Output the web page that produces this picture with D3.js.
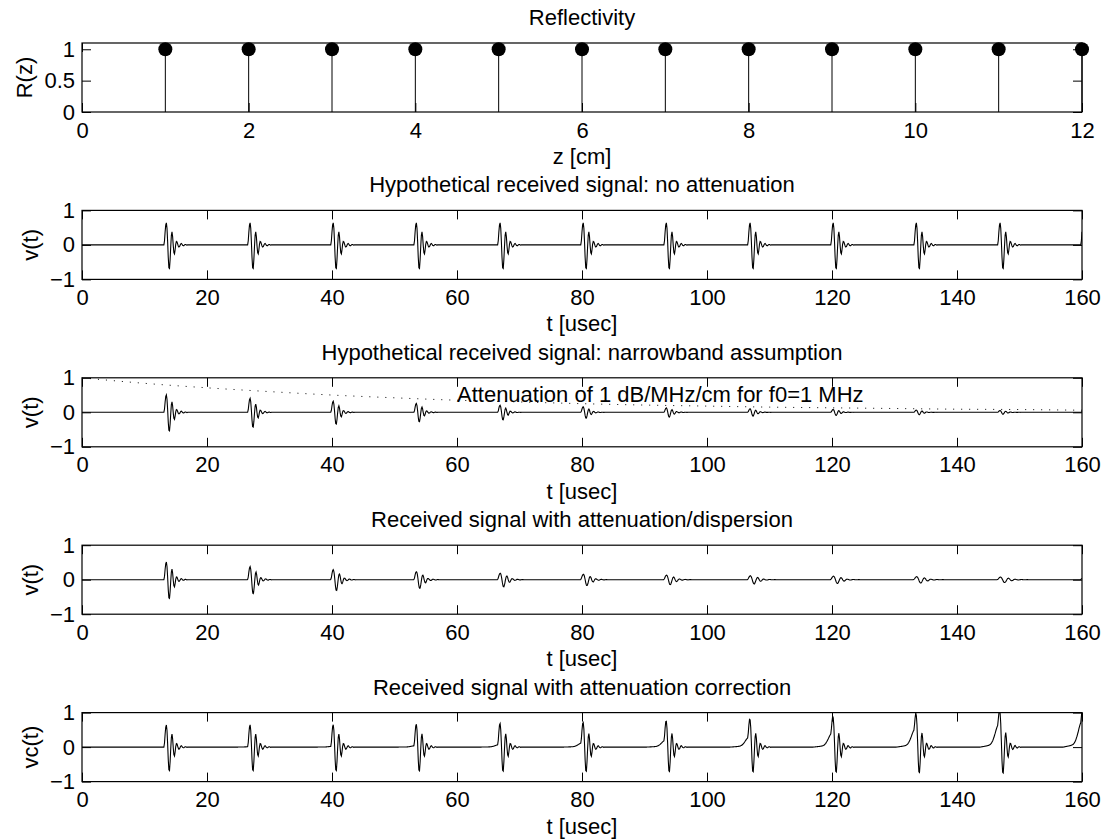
<html>
  <head>
    <meta charset="UTF-8">
    <script src="https://unpkg.com/d3@7/dist/d3.min.js"></script>
    <title>Reflectivity and received signals</title>
    <style> body { margin: 0; background: #fff; } </style>
  </head>
  <body>
  <script type="text/javascript">

    // ---- data ----
    // reflectivity: one reflector per cm
    var depths = [1, 2, 3, 4, 5, 6, 7, 8, 9, 10, 11, 12];
    var reflect = [1, 1, 1, 1, 1, 1, 1, 1, 1, 1, 1, 1];

    // echo arrival times [usec]
    var echoTimes = [13.3, 26.7, 40.0, 53.3, 66.7, 80.0, 93.3, 106.7, 120.0, 133.3, 146.7, 160.0];

    // single echo shape (offset from arrival time [usec], amplitude)
    var pulseOffsets = [-0.2, -0.1, 0.0, 0.1, 0.2, 0.3, 0.4, 0.5, 0.6, 0.7, 0.8, 0.9, 1.0,
                        1.1, 1.2, 1.3, 1.4, 1.5, 1.6, 1.7, 1.8, 1.9, 2.0, 2.1, 2.2, 2.3,
                        2.4, 2.5, 2.6, 2.7, 2.8, 2.9, 3.0, 3.1, 3.2, 3.3, 3.4, 3.5, 3.6];
    var pulseValues = [0, 0.12, 0.38, 0.58, 0.64, 0.48, 0.10, -0.36, -0.66, -0.68, -0.42, -0.04, 0.28,
                       0.38, 0.24, -0.02, -0.22, -0.26, -0.14, 0.02, 0.10, 0.09, 0.03, -0.03, -0.06, -0.05,
                       -0.01, 0.03, 0.04, 0.02, -0.01, -0.02, -0.02, 0.0, 0.01, 0.01, 0.0, -0.01, 0];

    // narrowband attenuation: gain of each echo and the dotted envelope
    var narrowGain = [0.79, 0.63, 0.50, 0.40, 0.32, 0.25, 0.20, 0.16, 0.13, 0.10, 0.08, 0.06];
    var envTimes = [0, 10, 20, 30, 40, 50, 60, 70, 80, 90, 100, 110, 120, 130, 140, 150, 160];
    var envValues = [1.00, 0.84, 0.71, 0.60, 0.50, 0.42, 0.35, 0.30, 0.25, 0.21, 0.18, 0.15, 0.13, 0.11, 0.09, 0.08, 0.06];

    // attenuation + dispersion: gain and broadening of each echo
    var dispGain = [0.80, 0.60, 0.46, 0.37, 0.30, 0.25, 0.21, 0.18, 0.16, 0.14, 0.12, 0.11];
    var dispStretch = [1.00, 1.04, 1.08, 1.12, 1.16, 1.20, 1.24, 1.28, 1.32, 1.36, 1.40, 1.44];

    // attenuation correction: gain of each echo and the rising lead-in before it
    var corrGain = [1.00, 1.00, 1.00, 1.01, 1.02, 1.03, 1.04, 1.05, 1.06, 1.08, 1.10, 1.10];
    var leadAmp = [0, 0.01, 0.02, 0.04, 0.07, 0.12, 0.19, 0.28, 0.40, 0.52, 0.66, 0.75];
    var leadOffsets = [-3.0, -2.4, -2.0, -1.6, -1.4, -1.2, -1.0, -0.8, -0.6, -0.45, -0.3, -0.1, 0.1, 0.2, 0.35, 0.5];
    var leadValues = [0, 0.03, 0.05, 0.08, 0.11, 0.17, 0.27, 0.42, 0.60, 0.75, 0.88, 1.0, 0.70, 0.42, 0.12, 0];

    // axes text
    var zTicks = [0, 2, 4, 6, 8, 10, 12];
    var tTicks = [0, 20, 40, 60, 80, 100, 120, 140, 160];
    var rTicks = [0, 0.5, 1];
    var vTicks = [-1, 0, 1];
    var titles = ['Reflectivity',
                  'Hypothetical received signal: no attenuation',
                  'Hypothetical received signal: narrowband assumption',
                  'Received signal with attenuation/dispersion',
                  'Received signal with attenuation correction'];
    var xLabels = ['z [cm]', 't [usec]', 't [usec]', 't [usec]', 't [usec]'];
    var yLabels = ['R(z)', 'v(t)', 'v(t)', 'v(t)', 'vc(t)'];
    var note = 'Attenuation of 1 dB/MHz/cm for f0=1 MHz';

    // ---- layout ----
    var width = 1104;
    var height = 839;
    var left = 82;
    var plotW = 1000;
    var plotH = 69;
    var firstTop = 43;
    var step = 167.4;
    var font = "'Liberation Sans', Arial, Helvetica, sans-serif";
    var fontSize = 22;
    var tickLen = 9;
    var numFmt = d3.format('');

    var svg = d3.select('body')
                .append('svg')
                .attr('width', width)
                .attr('height', height)
                .style('background', '#fff');

    // build one subplot with box, inward ticks on all four sides and labels
    function drawPanel(i, xDomain, yDomain, xTicks, yTicks) {
      var top = firstTop + i * step;
      var g = svg.append('g').attr('transform', 'translate(' + left + ',' + top + ')');

      var x = d3.scaleLinear().domain(xDomain).range([0, plotW]);
      var y = d3.scaleLinear().domain(yDomain).range([plotH, 0]);

      g.append('clipPath').attr('id', 'clip' + i)
        .append('rect').attr('width', plotW).attr('height', plotH);

      // [axis, transform, keep labels, padding]
      var axes = [
        [d3.axisBottom(x).tickValues(xTicks), 'translate(0,' + plotH + ')', true, 10],
        [d3.axisTop(x).tickValues(xTicks), null, false, 7],
        [d3.axisLeft(y).tickValues(yTicks), null, true, 7],
        [d3.axisRight(y).tickValues(yTicks), 'translate(' + plotW + ',0)', false, 7]
      ];
      var leftAxis;
      axes.forEach(function(a, n) {
        a[0].tickSizeInner(-tickLen).tickSizeOuter(0).tickPadding(a[3]).tickFormat(numFmt);
        var ag = g.append('g');
        if (a[1]) ag.attr('transform', a[1]);
        ag.call(a[0]);
        ag.select('.domain').remove();
        ag.selectAll('line').attr('stroke', '#000').attr('stroke-width', 1);
        if (a[2]) {
          ag.selectAll('text')
            .attr('fill', '#000')
            .style('font-family', font)
            .style('font-size', fontSize + 'px');
        } else {
          ag.selectAll('text').remove();
        }
        if (n === 2) leftAxis = ag;
      });

      // box
      g.append('rect')
        .attr('width', plotW)
        .attr('height', plotH)
        .attr('fill', 'none')
        .attr('stroke', '#000')
        .attr('stroke-width', 1.2);

      // title and x label
      g.append('text')
        .attr('x', plotW / 2).attr('y', -18)
        .attr('text-anchor', 'middle')
        .style('font-family', font).style('font-size', fontSize + 'px')
        .text(titles[i]);
      g.append('text')
        .attr('x', plotW / 2).attr('y', plotH + 52)
        .attr('text-anchor', 'middle')
        .style('font-family', font).style('font-size', fontSize + 'px')
        .text(xLabels[i]);

      // y label placed left of the widest tick label
      var widest = 0;
      leftAxis.selectAll('text').each(function() {
        widest = Math.max(widest, this.getComputedTextLength());
      });
      var labelX = -7 - widest - 12;
      g.append('text')
        .attr('transform', 'translate(' + labelX + ',' + (plotH / 2) + ') rotate(-90)')
        .attr('text-anchor', 'middle')
        .style('font-family', font).style('font-size', fontSize + 'px')
        .text(yLabels[i]);

      return {g: g, x: x, y: y, clip: 'url(#clip' + i + ')'};
    }

    // ---- panel 1: reflectivity stems ----
    var p1 = drawPanel(0, [0, 12], [0, 1.1], zTicks, rTicks);
    var stems = depths.map(function(d, k) { return {z: d, r: reflect[k]}; });
    p1.g.selectAll('.stem')
      .data(stems)
      .enter()
      .append('line')
      .attr('x1', function(d) { return p1.x(d.z); })
      .attr('x2', function(d) { return p1.x(d.z); })
      .attr('y1', p1.y(0))
      .attr('y2', function(d) { return p1.y(d.r); })
      .attr('stroke', '#000')
      .attr('stroke-width', 1);
    p1.g.selectAll('.dot')
      .data(stems)
      .enter()
      .append('circle')
      .attr('cx', function(d) { return p1.x(d.z); })
      .attr('cy', function(d) { return p1.y(d.r); })
      .attr('r', 7)
      .attr('fill', '#000');

    // ---- signals built from the echo shape ----
    var pulse = d3.scaleLinear().domain(pulseOffsets).range(pulseValues).clamp(true);
    var lead = d3.scaleLinear().domain(leadOffsets).range(leadValues).clamp(true);
    var tGrid = d3.range(0, 160.0001, 0.05);

    function build(f) {
      return tGrid.map(function(t) {
        var v = 0;
        echoTimes.forEach(function(te, k) {
          if (t > te - 4 && t < te + 6) v += f(t - te, k);
        });
        return [t, v];
      });
    }

    var sigPlain = build(function(dt, k) { return reflect[k] * pulse(dt); });
    var sigNarrow = build(function(dt, k) { return reflect[k] * narrowGain[k] * pulse(dt); });
    var sigDisp = build(function(dt, k) { return reflect[k] * dispGain[k] * pulse(dt / dispStretch[k]); });
    var sigCorr = build(function(dt, k) { return reflect[k] * (corrGain[k] * pulse(dt) + leadAmp[k] * lead(dt)); });

    var signals = [sigPlain, sigNarrow, sigDisp, sigCorr];
    var panels = [];
    signals.forEach(function(sig, j) {
      var p = drawPanel(j + 1, [0, 160], [-1, 1], tTicks, vTicks);
      var line = d3.line()
                   .x(function(d) { return p.x(d[0]); })
                   .y(function(d) { return p.y(d[1]); });
      p.g.append('path')
        .datum(sig)
        .attr('clip-path', p.clip)
        .attr('d', line)
        .attr('fill', 'none')
        .attr('stroke', '#000')
        .attr('stroke-width', 1.1);
      panels.push(p);
    });

    // dotted attenuation envelope and note on panel 3
    var p3 = panels[1];
    var envLine = d3.line()
                    .curve(d3.curveMonotoneX)
                    .x(function(d) { return p3.x(d[0]); })
                    .y(function(d) { return p3.y(d[1]); });
    p3.g.append('path')
      .datum(envTimes.map(function(t, k) { return [t, envValues[k]]; }))
      .attr('clip-path', p3.clip)
      .attr('d', envLine)
      .attr('fill', 'none')
      .attr('stroke', '#000')
      .attr('stroke-width', 1)
      .attr('stroke-dasharray', '1,7');
    p3.g.append('text')
      .attr('x', p3.x(60))
      .attr('y', p3.y(0.31))
      .style('font-family', font).style('font-size', fontSize + 'px')
      .text(note);

  </script>
  </body>
</html>
